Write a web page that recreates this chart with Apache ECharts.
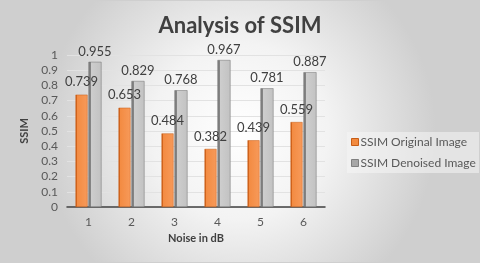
<!DOCTYPE html>
<html><head><meta charset="utf-8">
<script src="https://cdn.jsdelivr.net/npm/echarts@6/dist/echarts.min.js"></script>
<style>html,body{margin:0;padding:0;background:#fff}#c{width:480px;height:263px;box-sizing:border-box;border:1px solid #cfcfcf}</style>
</head><body><div id="c"></div>
<script>
const categories = ['1','2','3','4','5','6'];
const original = [0.739, 0.653, 0.484, 0.382, 0.439, 0.559];
const denoised = [0.955, 0.829, 0.768, 0.967, 0.781, 0.887];
const seriesNames = ['SSIM Original Image','SSIM Denoised Image'];

const chart = echarts.init(document.getElementById('c'));
const font = 'Lato, "Open Sans", sans-serif';
const orangeFill = new echarts.graphic.LinearGradient(0,0,1,0,[
  {offset:0,color:'#d2641c'},{offset:0.12,color:'#d2641c'},{offset:0.13,color:'#f38b42'},{offset:1,color:'#f79a5a'}]);
const grayFill = new echarts.graphic.LinearGradient(0,0,1,0,[
  {offset:0,color:'#7a7a7a'},{offset:0.22,color:'#888888'},{offset:0.23,color:'#cdcdcd'},{offset:1,color:'#c2c2c2'}]);
chart.setOption({
  backgroundColor: new echarts.graphic.RadialGradient(0.5,0.5,0.75,[
    {offset:0,color:'#ffffff'},{offset:0.45,color:'#f3f3f3'},{offset:1,color:'#cfcfcf'}]),
  animation:false,
  title:{text:'Analysis of SSIM',left:'center',top:9,
    textStyle:{fontFamily:font,fontSize:22,fontWeight:'bold',color:'#404040'}},
  grid:{left:66,right:154,top:54,bottom:55},
  legend:{orient:'vertical',left:346,top:131,itemWidth:7,itemHeight:7,itemGap:9,
    padding:[4,6,4,4],backgroundColor:'rgba(245,245,245,0.55)',
    icon:'rect',
    data:[{name:seriesNames[0],itemStyle:{color:'#f28a3f',borderColor:'#c75d17',borderWidth:1}},
          {name:seriesNames[1],itemStyle:{color:'#a6a6a6',borderColor:'#7f7f7f',borderWidth:1}}],
    textStyle:{fontFamily:font,fontSize:12,color:'#595959',padding:[0,0,0,-3]}},
  xAxis:{type:'category',data:categories,
    name:'Noise in dB',nameLocation:'middle',nameGap:26,
    nameTextStyle:{fontFamily:font,fontSize:11,fontWeight:'bold',color:'#404040'},
    axisLine:{lineStyle:{color:'#404040',width:1.5}},axisTick:{show:false},
    axisLabel:{fontFamily:font,fontSize:12,color:'#595959',margin:9}},
  yAxis:{type:'value',min:0,max:1,interval:0.1,
    name:'SSIM',nameLocation:'middle',nameGap:36,
    nameTextStyle:{fontFamily:font,fontSize:11,fontWeight:'bold',color:'#404040'},
    axisLine:{show:false},axisTick:{show:false},
    axisLabel:{fontFamily:font,fontSize:12,color:'#595959',margin:9},
    splitLine:{lineStyle:{color:'#e2e2e2'}}},
  series:[
    {name:seriesNames[0],type:'bar',data:original,barWidth:12,barGap:'8%',
     itemStyle:{color:orangeFill,borderColor:'#c75d17',borderWidth:0.5},
     label:{show:true,position:'top',distance:6,fontFamily:font,fontSize:13,color:'#404040'}},
    {name:seriesNames[1],type:'bar',data:denoised,barWidth:13,
     itemStyle:{color:grayFill,borderColor:'#6f6f6f',borderWidth:0.5},
     label:{show:true,position:'top',distance:4,fontFamily:font,fontSize:13,color:'#404040'}}
  ]
});
</script></body></html>
